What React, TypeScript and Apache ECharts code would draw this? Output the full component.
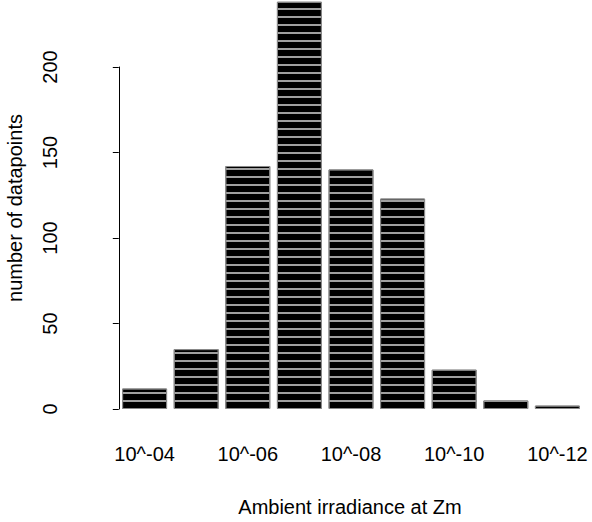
import React, { useEffect, useRef } from "react";
import * as echarts from "echarts";

const categories = ["10^-04", "10^-05", "10^-06", "10^-07", "10^-08", "10^-09", "10^-10", "10^-11", "10^-12"];
const counts = [12, 35, 142, 238, 140, 123, 23, 5, 2];
const yTicks = { min: 0, max: 200, interval: 50 };
const xTitle = "Ambient irradiance at Zm";
const yTitle = "number of datapoints";

const FONT = "Liberation Sans, Arial, sans-serif";

export default function App() {
  const ref = useRef<HTMLDivElement>(null);
  useEffect(() => {
    if (!ref.current) return;
    const chart = echarts.init(ref.current, undefined, { renderer: "svg" });
    const gridLeft = 118.8;
    const gridRight = 8.8;
    chart.setOption({
      animation: false,
      backgroundColor: "#fff",
      textStyle: { fontFamily: FONT },
      grid: [
        { left: gridLeft, right: gridRight, top: 0, bottom: 113 },
        { left: gridLeft, right: gridRight, top: 67, bottom: 113 },
      ],
      xAxis: [
        {
          gridIndex: 0,
          type: "category",
          data: categories,
          axisLine: { show: false },
          axisTick: { show: false },
          axisLabel: { interval: 1, margin: 35, fontSize: 20, color: "#000", fontFamily: FONT },
        },
        { gridIndex: 1, type: "value", show: false },
      ],
      yAxis: [
        { gridIndex: 0, type: "value", min: 0, max: 239, show: false },
        {
          gridIndex: 1,
          type: "value",
          min: yTicks.min,
          max: yTicks.max,
          interval: yTicks.interval,
          offset: 14,
          axisLine: { show: true, lineStyle: { color: "#000", width: 1 } },
          axisTick: { show: true, length: 6, lineStyle: { color: "#000" } },
          axisLabel: { rotate: 90, margin: 45, fontSize: 20, color: "#000", fontFamily: FONT },
          splitLine: { show: false },
        },
      ],
      series: [
        {
          type: "bar",
          xAxisIndex: 0,
          yAxisIndex: 0,
          data: counts,
          barWidth: 45,
          itemStyle: {
            color: "#000",
            borderColor: "#888",
            borderWidth: 1,
            decal: {
              symbol: "rect",
              symbolSize: 1,
              color: "#a0a0a0",
              dashArrayX: [1, 0],
              dashArrayY: [1.2, 5.8],
              rotation: 0,
            },
          },
        },
      ],
      graphic: [
        {
          type: "text",
          x: 15,
          y: 208,
          rotation: Math.PI / 2,
          style: { text: yTitle, font: `20px ${FONT}`, fill: "#000", align: "center", verticalAlign: "middle" },
        },
        {
          type: "text",
          x: 350,
          y: 507,
          style: { text: xTitle, font: `20px ${FONT}`, fill: "#000", align: "center", verticalAlign: "middle" },
        },
      ],
    });
    return () => chart.dispose();
  }, []);
  return <div ref={ref} style={{ width: 592, height: 522, position: "absolute", left: 0, top: 0 }} />;
}
